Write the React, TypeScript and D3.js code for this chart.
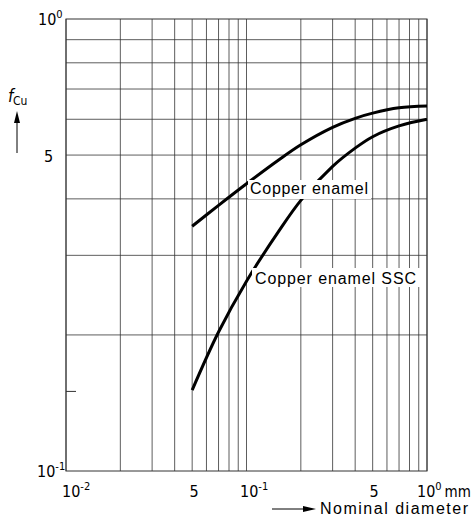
import React from "react";
import * as d3 from "d3";

const diameters = [0.05, 0.07, 0.1, 0.15, 0.2, 0.3, 0.4, 0.5, 0.7, 1.0];
const fCopperEnamel = [0.348, 0.387, 0.432, 0.487, 0.527, 0.576, 0.603, 0.619, 0.636, 0.642];
const fCopperEnamelSSC = [0.151, 0.203, 0.263, 0.338, 0.397, 0.472, 0.518, 0.549, 0.58, 0.6];

const xGridValues = [1, 2, 3, 4, 5, 6, 7, 8, 9].flatMap((k) => [k * 0.01, k * 0.1]).concat([1]);
const yGridValues = [0.2, 0.3, 0.4, 0.5, 0.6, 0.7, 0.8, 0.9];
const yShortTicks = [0.15];

const W = 475;
const H = 517;
const LEFT = 66;
const RIGHT = 427;
const TOP = 19;
const BOTTOM = 471;

const NUM_FONT = "'Liberation Sans Narrow', 'Arial Narrow', 'DejaVu Sans Condensed', sans-serif";
const TXT_FONT = "'Liberation Sans', Arial, Helvetica, sans-serif";

export default function App() {
  const x = d3.scaleLog().domain([0.01, 1]).range([LEFT, RIGHT]);
  const y = d3.scaleLog().domain([0.1, 1]).range([BOTTOM, TOP]);

  const line = d3
    .line<number>()
    .x((_, i) => x(diameters[i]))
    .y((d) => y(d))
    .curve(d3.curveCatmullRom.alpha(0.5));

  const gridStroke = "#333";
  const gridWidth = 0.8;

  return (
    <svg
      width={W}
      height={H}
      style={{ position: "absolute", left: 0, top: 0, background: "#fff" }}
    >
      <rect x={0} y={0} width={W} height={H} fill="#fff" />
      {xGridValues.map((v, i) => (
        <line
          key={"vx" + i}
          x1={x(v)}
          x2={x(v)}
          y1={TOP}
          y2={BOTTOM}
          stroke={gridStroke}
          strokeWidth={gridWidth}
        />
      ))}
      {yGridValues.map((v, i) => (
        <line
          key={"hy" + i}
          x1={LEFT}
          x2={RIGHT}
          y1={y(v)}
          y2={y(v)}
          stroke={gridStroke}
          strokeWidth={gridWidth}
        />
      ))}
      {yShortTicks.map((v, i) => (
        <line
          key={"st" + i}
          x1={LEFT}
          x2={LEFT + 10}
          y1={y(v)}
          y2={y(v)}
          stroke={gridStroke}
          strokeWidth={1}
        />
      ))}
      <rect
        x={LEFT}
        y={TOP}
        width={RIGHT - LEFT}
        height={BOTTOM - TOP}
        fill="none"
        stroke={gridStroke}
        strokeWidth={1}
      />

      <path d={line(fCopperEnamel) || ""} fill="none" stroke="#000" strokeWidth={3} />
      <path d={line(fCopperEnamelSSC) || ""} fill="none" stroke="#000" strokeWidth={3} />

      <rect x={248} y={180} width={123} height={19} fill="#fff" />
      <text
        x={250}
        y={193.5}
        fontFamily={TXT_FONT}
        fontSize={16}
        textLength={118}
        lengthAdjust="spacing"
        fill="#000"
      >
        Copper enamel
      </text>
      <rect x={252} y={268} width={168} height={19} fill="#fff" />
      <text
        x={255}
        y={283.5}
        fontFamily={TXT_FONT}
        fontSize={16}
        textLength={161}
        lengthAdjust="spacing"
        fill="#000"
      >
        Copper enamel SSC
      </text>

      <g fontFamily={NUM_FONT} fontSize={16} fill="#000">
        <text x={38} y={25}>
          10<tspan dy={-7} fontSize={11}>0</tspan>
        </text>
        <text x={48.5} y={162} textAnchor="middle">5</text>
        <text x={37} y={477}>
          10<tspan dy={-7} fontSize={11}>-1</tspan>
        </text>
      </g>

      <g fontFamily={NUM_FONT} fontSize={16} fill="#000">
        <text x={62} y={497}>
          10<tspan dy={-7} fontSize={11}>-2</tspan>
        </text>
        <text x={x(0.05) + 2} y={497} textAnchor="middle">5</text>
        <text x={x(0.1) - 6.5} y={497}>
          10<tspan dy={-7} fontSize={11}>-1</tspan>
        </text>
        <text x={x(0.5) + 1.5} y={497} textAnchor="middle">5</text>
        <text x={x(1) - 10} y={497}>
          10<tspan dy={-7} fontSize={11}>0</tspan>
          <tspan dy={7} dx={3} fontSize={15}>mm</tspan>
        </text>
      </g>

      <text x={8} y={102} fontFamily={NUM_FONT} fontSize={17} fontStyle="italic" fill="#000">
        f
      </text>
      <text x={13} y={105} fontFamily={NUM_FONT} fontSize={12} fill="#000">
        Cu
      </text>
      <line x1={17} x2={17} y1={153} y2={121} stroke="#000" strokeWidth={1} />
      <path d="M17,111 L14,123 L20,123 Z" fill="#000" />

      <line x1={272} x2={305} y1={509} y2={509} stroke="#000" strokeWidth={1} />
      <path d="M316,509 L303,506 L303,512 Z" fill="#000" />
      <text
        x={320}
        y={514}
        fontFamily={TXT_FONT}
        fontSize={16}
        textLength={148}
        lengthAdjust="spacing"
        fill="#000"
      >
        Nominal diameter
      </text>
    </svg>
  );
}
